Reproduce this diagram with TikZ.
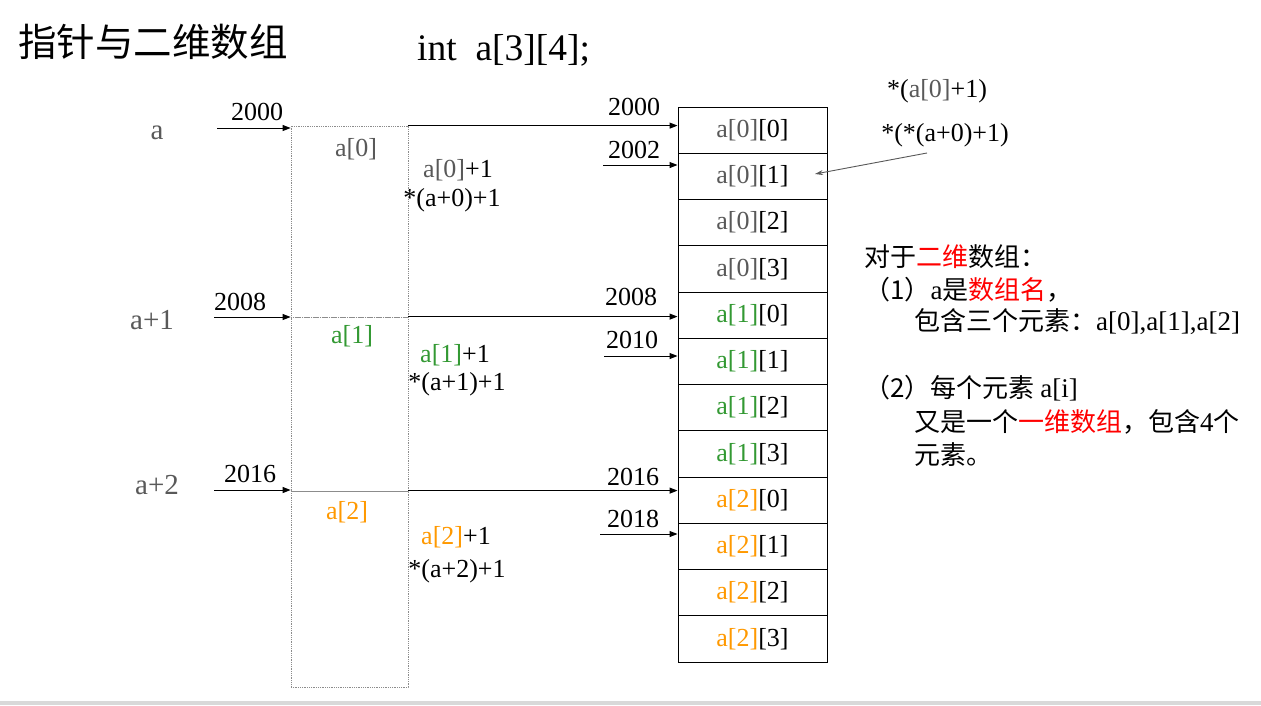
\documentclass[tikz,border=0pt]{standalone}
\usepackage{fontspec}
\setmainfont{Liberation Serif}
\newfontfamily\cjk{Noto Sans CJK SC}
\usetikzlibrary{arrows.meta,calc}
\definecolor{ArrGrey}{HTML}{595959}
\definecolor{ArrGreen}{HTML}{339933}
\definecolor{ArrOrange}{HTML}{FF9900}
\definecolor{ArrRed}{HTML}{FF0000}
\definecolor{ArrFrame}{HTML}{8C8C8C}
\definecolor{ArrRule}{HTML}{D9D9D9}

\begin{document}
\begin{tikzpicture}[x=1pt,y=-1pt,
    lbl/.style={font=\fontsize{26}{30}\selectfont,inner sep=1pt},
    cn/.style={font=\cjk\fontsize{26}{28}\selectfont,anchor=west,inner sep=0pt},
    ptr/.style={-{Triangle[length=8pt,width=6pt]},line width=1pt},
    hint/.style={-{Stealth[length=8pt,width=5pt]},ArrGrey,line width=0.9pt},
    cell/.style={draw,line width=1pt,minimum width=149pt,minimum height=46.25pt,
      inner sep=0pt,font=\fontsize{26}{30}\selectfont},
    rowbox/.style={draw=ArrFrame,densely dotted,line width=0.8pt,
      minimum width=117pt,inner sep=0pt}]
        \fill[white] (0,0) rectangle (1261,705);
        \useasboundingbox (0,0) rectangle (1261,705);
        \fill[ArrRule] (0,701) rectangle (1261,705);

        % heading
        \node[font=\cjk\fontsize{38.5}{42}\selectfont,anchor=west,inner sep=0pt]
          (title) at (18,42) {指针与二维数组};
        \node[font=\fontsize{37.5}{42}\selectfont,anchor=west,inner sep=0pt]
          (decl) at (417,50) {int\ \ a[3][4];};

        % the three rows a[0], a[1], a[2]
        \node[rowbox,minimum height=191pt] (r0) at (349.5,221.5) {};
        \node[rowbox,minimum height=174pt] (r1) at (349.5,404) {};
        \node[rowbox,minimum height=196pt] (r2) at (349.5,589) {};
        \node[lbl,text=ArrGrey] (n0) at (356,149) {a[0]};
        \node[lbl,text=ArrGreen] (n1) at (352,336) {a[1]};
        \node[lbl,text=ArrOrange] (n2) at (347,512) {a[2]};

        % pointers a, a+1, a+2
        \node[lbl,text=ArrGrey,font=\fontsize{29}{32}\selectfont] (va) at (157,133) {a};
        \node[lbl,text=ArrGrey,font=\fontsize{29}{32}\selectfont] (va1) at (152,320) {a+1};
        \node[lbl,text=ArrGrey,font=\fontsize{29}{32}\selectfont] (va2) at (157,485) {a+2};
        \node[lbl] (ad0) at (257,112) {2000};
        \node[lbl] (ad1) at (240,302) {2008};
        \node[lbl] (ad2) at (250,474) {2016};
        \coordinate (q0) at (217,128);
        \coordinate (q1) at (214,317);
        \coordinate (q2) at (214,490);
        \draw[ptr] (q0) -- (q0 -| r0.west);
        \draw[ptr] (q1) -- (q1 -| r1.west);
        \draw[ptr] (q2) -- (q2 -| r2.west);

        % memory cells
        \foreach \i/\r/\c/\col in {0/0/0/ArrGrey,1/0/1/ArrGrey,2/0/2/ArrGrey,3/0/3/ArrGrey,
            4/1/0/ArrGreen,5/1/1/ArrGreen,6/1/2/ArrGreen,7/1/3/ArrGreen,
            8/2/0/ArrOrange,9/2/1/ArrOrange,10/2/2/ArrOrange,11/2/3/ArrOrange}
          \node[cell] (m\i) at (752.5,{130.125+46.25*\i}) {\textcolor{\col}{a[\r]}[\c]};

        % row starts
        \draw[ptr] (r0.north east) -- (r0.north east -| m0.west);
        \draw[ptr] (r1.north east) -- (r1.north east -| m4.west);
        \draw[ptr] (r2.north east) -- (r2.north east -| m8.west);
        \node[lbl] (ma0) at (634,107) {2000};
        \node[lbl] (ma4) at (631,297) {2008};
        \node[lbl] (ma8) at (633,477) {2016};

        % second elements
        \coordinate (p1) at (603,165);
        \coordinate (p5) at (604,356);
        \coordinate (p9) at (600,534);
        \draw[ptr] (p1) -- (p1 -| m1.west);
        \draw[ptr] (p5) -- (p5 -| m5.west);
        \draw[ptr] (p9) -- (p9 -| m9.west);
        \node[lbl] (ma1) at (634,150) {2002};
        \node[lbl] (ma5) at (632,340) {2010};
        \node[lbl] (ma9) at (633,519) {2018};

        \node[lbl] (e0a) at (458,170) {\textcolor{ArrGrey}{a[0]}+1};
        \node[lbl] (e0b) at (452,200) {*(a+0)+1};
        \node[lbl] (e1a) at (455,355) {\textcolor{ArrGreen}{a[1]}+1};
        \node[lbl] (e1b) at (457,384) {*(a+1)+1};
        \node[lbl] (e2a) at (456,537) {\textcolor{ArrOrange}{a[2]}+1};
        \node[lbl] (e2b) at (457,571) {*(a+2)+1};

        % element a[0][1]
        \node[lbl] (d0) at (937,91) {*(\textcolor{ArrGrey}{a[0]}+1)};
        \node[lbl] (deref) at (945,135) {*(*(a+0)+1)};
        \coordinate (tgt) at (815,174);
        \draw[hint] ($(deref.south)+(-18,5)$) -- (tgt);

        % notes
        \node[cn] (t1) at (864,257) {对于\textcolor{ArrRed}{二维}数组：};
        \node[cn] (t2) at (864,290) {（1）{\rmfamily\fontsize{27}{30}\selectfont a}是\textcolor{ArrRed}{数组名}，};
        \node[cn] (t3) at (914,322) {包含三个元素：{\rmfamily\fontsize{27}{30}\selectfont a[0],a[1],a[2]}};
        \node[cn] (t4) at (864,388) {（2）每个元素 {\rmfamily\fontsize{27}{30}\selectfont a[i]}};
        \node[cn] (t5) at (914,422) {又是一个\textcolor{ArrRed}{一维数组}，包含{\rmfamily\fontsize{27}{30}\selectfont 4}个};
        \node[cn] (t6) at (914,455) {元素。};
      \end{tikzpicture}
\end{document}
